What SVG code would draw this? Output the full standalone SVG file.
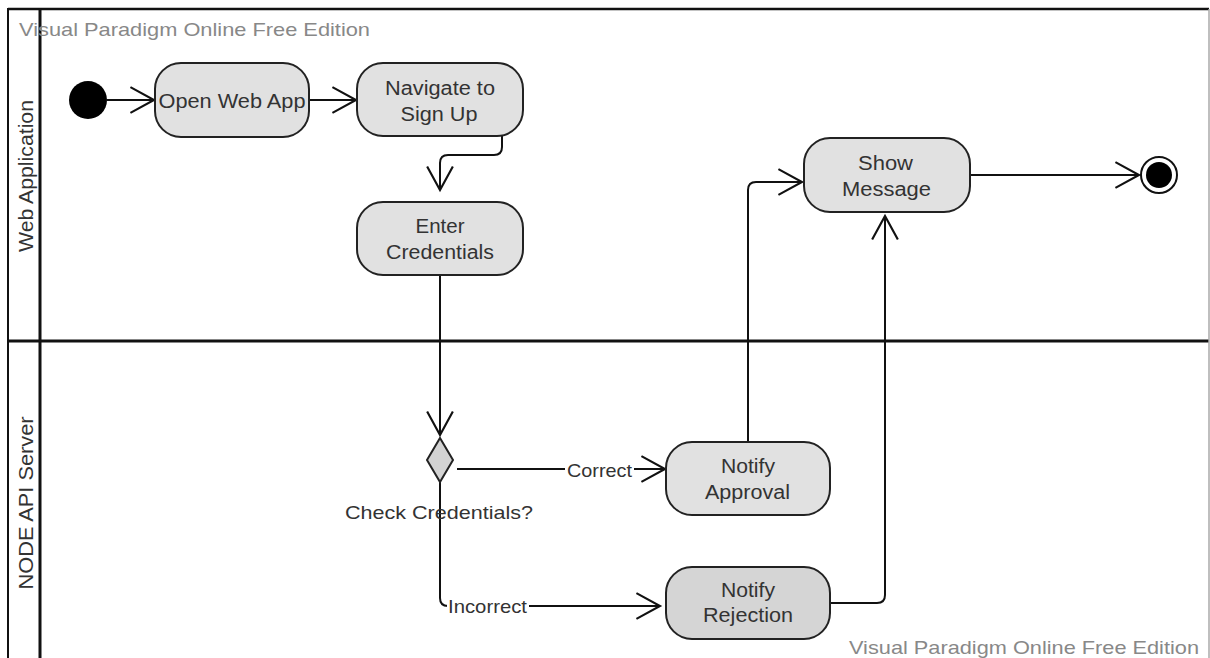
<svg xmlns="http://www.w3.org/2000/svg" width="1210" height="658" viewBox="0 0 1210 658">
<style>
.node{fill:#e1e1e1;stroke:#222;stroke-width:2}
.rej{fill:#d5d5d5}
.t{font-family:"Liberation Sans",Arial,sans-serif;font-size:20px;fill:#333;text-anchor:middle}
.lbl{font-family:"Liberation Sans",Arial,sans-serif;font-size:19px;fill:#333;text-anchor:middle}
.wm{font-family:"Liberation Sans",Arial,sans-serif;font-size:18.5px;fill:#888}
.edge{fill:none;stroke:#111;stroke-width:2;marker-end:url(#arr)}
.frame{stroke:#111;fill:none}
</style>
<defs>
<marker id="arr" markerUnits="userSpaceOnUse" markerWidth="30" markerHeight="30" viewBox="-24 -14 28 28" refX="0" refY="0" orient="auto">
<path d="M-22,-12 L0,0 L-22,12" fill="none" stroke="#111" stroke-width="2"/>
</marker>
</defs>
<rect width="1210" height="658" fill="#fff"/>
<g id="frame">
<line class="frame" x1="8" y1="9" x2="1209" y2="9" stroke-width="2.5"/>
<line class="frame" x1="8" y1="8" x2="8" y2="658" stroke-width="2"/>
<line class="frame" x1="40" y1="8" x2="40" y2="658" stroke-width="3"/>
<line class="frame" x1="8" y1="341" x2="1209" y2="341" stroke-width="3"/>
<line x1="1209" y1="9" x2="1209" y2="658" stroke="#aaa" stroke-width="1.5"/>
</g>
<g id="lane-web">
<text class="t" transform="translate(33,176) rotate(-90)" x="0" y="0" textLength="152" lengthAdjust="spacingAndGlyphs">Web Application</text>
</g>
<g id="lane-node">
<text class="t" transform="translate(33,503) rotate(-90)" x="0" y="0" textLength="173" lengthAdjust="spacingAndGlyphs">NODE API Server</text>
</g>
<g id="watermarks">
<text class="wm" x="19" y="36" textLength="351" lengthAdjust="spacingAndGlyphs">Visual Paradigm Online Free Edition</text>
<text class="wm" x="849" y="654" textLength="350" lengthAdjust="spacingAndGlyphs">Visual Paradigm Online Free Edition</text>
</g>
<g id="connectors">
<path class="edge" d="M107,100 H154"/>
<path class="edge" d="M309,100 H356"/>
<path class="edge" d="M502,136 V147 Q502,155 494,155 H448 Q440,155 440,163 V190"/>
<path class="edge" d="M440,275 V435"/>
<path class="edge" d="M457,469 H665"/>
<path class="edge" d="M440,482 V598 Q440,606 448,606 H660"/>
<path class="edge" d="M748,442 V190 Q748,182 756,182 H802"/>
<path class="edge" d="M830,603 H877 Q885,603 885,595 V216"/>
<path class="edge" d="M970,175 H1139"/>
<rect x="565" y="459" width="69" height="21" fill="#fff"/>
<text class="lbl" x="599.5" y="477" textLength="65" lengthAdjust="spacingAndGlyphs">Correct</text>
<rect x="447" y="596" width="82" height="21" fill="#fff"/>
<text class="lbl" x="487.5" y="613" textLength="79" lengthAdjust="spacingAndGlyphs">Incorrect</text>
</g>
<g id="start">
<circle cx="88" cy="100" r="19" fill="#000"/>
</g>
<g id="open-web-app">
<rect class="node" x="155" y="63" width="154" height="74" rx="26"/>
<text class="t" x="232" y="108" textLength="147" lengthAdjust="spacingAndGlyphs">Open Web App</text>
</g>
<g id="navigate-sign-up">
<rect class="node" x="357" y="63" width="166" height="73" rx="26"/>
<text class="t" x="440" y="95" textLength="110" lengthAdjust="spacingAndGlyphs">Navigate to</text>
<text class="t" x="439" y="121" textLength="77" lengthAdjust="spacingAndGlyphs">Sign Up</text>
</g>
<g id="enter-credentials">
<rect class="node" x="357" y="202" width="166" height="73" rx="26"/>
<text class="t" x="440" y="233" textLength="49" lengthAdjust="spacingAndGlyphs">Enter</text>
<text class="t" x="440" y="259" textLength="108" lengthAdjust="spacingAndGlyphs">Credentials</text>
</g>
<g id="show-message">
<rect class="node" x="804" y="138" width="166" height="74" rx="26"/>
<text class="t" x="885.5" y="170" textLength="55" lengthAdjust="spacingAndGlyphs">Show</text>
<text class="t" x="886.5" y="196" textLength="89" lengthAdjust="spacingAndGlyphs">Message</text>
</g>
<g id="end">
<circle cx="1159" cy="175" r="18" fill="#fff" stroke="#111" stroke-width="2"/>
<circle cx="1159" cy="175" r="13" fill="#000"/>
</g>
<g id="check-credentials">
<polygon points="440,438 453,460 440,482 427,460" fill="#d3d3d3" stroke="#222" stroke-width="2"/>
<text class="lbl" x="439" y="519" textLength="188" lengthAdjust="spacingAndGlyphs">Check Credentials?</text>
</g>
<g id="notify-approval">
<rect class="node" x="666" y="442" width="164" height="73" rx="26"/>
<text class="t" x="748" y="473" textLength="54" lengthAdjust="spacingAndGlyphs">Notify</text>
<text class="t" x="747.5" y="499" textLength="85" lengthAdjust="spacingAndGlyphs">Approval</text>
</g>
<g id="notify-rejection">
<rect class="node rej" x="666" y="567" width="164" height="72" rx="26"/>
<text class="t" x="748" y="597" textLength="54" lengthAdjust="spacingAndGlyphs">Notify</text>
<text class="t" x="748" y="622" textLength="90" lengthAdjust="spacingAndGlyphs">Rejection</text>
</g>
</svg>
